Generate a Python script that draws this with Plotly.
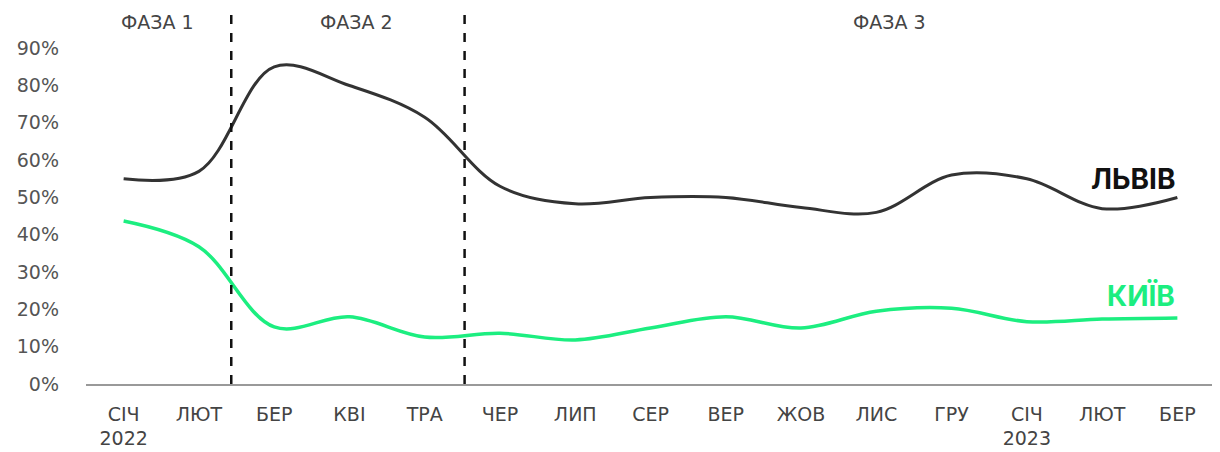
import plotly.graph_objects as go

months = ["СІЧ<br>2022", "ЛЮТ", "БЕР", "КВІ", "ТРА", "ЧЕР", "ЛИП", "СЕР",
          "ВЕР", "ЖОВ", "ЛИС", "ГРУ", "СІЧ<br>2023", "ЛЮТ", "БЕР"]
lviv = [55, 57, 85, 80, 71.5, 53, 48.3, 50, 50, 47.3, 46, 56, 55, 47, 50]
kyiv = [43.7, 36.8, 15.3, 18, 12.6, 13.6, 11.8, 15, 18, 15, 19.5, 20.3, 16.7, 17.4, 17.7]
phase_bounds = [1.43, 4.53]
phase_labels = ["ФАЗА 1", "ФАЗА 2", "ФАЗА 3"]
phase_label_x = [0.45, 3.09, 10.17]

x = list(range(len(months)))
FONT = "DejaVu Sans"
GREEN = "#1CEE80"
DARK = "#333333"

fig = go.Figure()
fig.add_trace(go.Scatter(x=x, y=[v / 100 for v in lviv], mode="lines",
                         line=dict(color=DARK, width=3, shape="spline", smoothing=1.0),
                         showlegend=False, hoverinfo="skip"))
fig.add_trace(go.Scatter(x=x, y=[v / 100 for v in kyiv], mode="lines",
                         line=dict(color=GREEN, width=3.5, shape="spline", smoothing=1.0),
                         showlegend=False, hoverinfo="skip"))

for b in phase_bounds:
    fig.add_shape(type="line", x0=b, x1=b, xref="x", y0=0, y1=1, yref="paper",
                  line=dict(color="#111111", width=2.5, dash="dash"))

for lab, px in zip(phase_labels, phase_label_x):
    fig.add_annotation(x=px, y=0.981, xref="x", yref="paper", text=lab,
                       showarrow=False, yanchor="middle",
                       font=dict(family=FONT, size=19, color="#444444"))

fig.add_annotation(x=14, y=lviv[-1] / 100 + 0.05, xref="x", yref="y", text="<b>ЛЬВІВ</b>",
                   showarrow=False, xanchor="right", yanchor="middle",
                   font=dict(family="Inter", size=28, color="#111111"))
fig.add_annotation(x=14, y=kyiv[-1] / 100 + 0.06, xref="x", yref="y", text="<b>КИЇВ</b>",
                   showarrow=False, xanchor="right", yanchor="middle",
                   font=dict(family="Inter", size=28, color=GREEN))

fig.update_layout(
    width=1220, height=452,
    margin=dict(l=78, r=13, t=7, b=76),
    paper_bgcolor="white", plot_bgcolor="white",
    font=dict(family=FONT, size=19, color="#555555"),
    xaxis=dict(range=[-0.5, 14.5], tickvals=x, ticktext=months, showgrid=False,
               zeroline=False, showline=True, linecolor="#999999", linewidth=1.5,
               ticks="", ticklabelstandoff=12, tickfont=dict(size=19, color="#444444")),
    yaxis=dict(range=[0, 0.989], tickvals=[i / 10 for i in range(10)],
               tickformat=".0%", showgrid=False, zeroline=False, showline=False,
               ticks="", ticklabelstandoff=26, tickfont=dict(size=19, color="#555555")),
)

fig.write_html("out.html")
